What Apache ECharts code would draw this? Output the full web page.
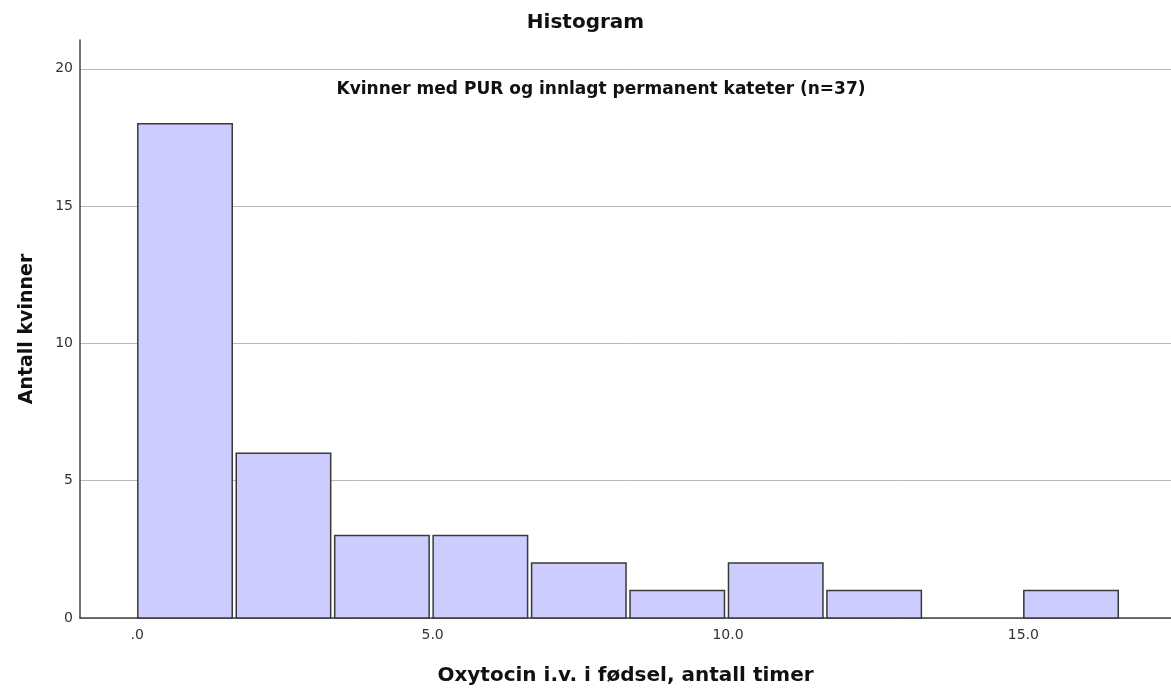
<!DOCTYPE html>
<html>
<head>
<meta charset="utf-8">
<script src="https://cdn.jsdelivr.net/npm/echarts@6/dist/echarts.min.js"></script>
<style>html,body{margin:0;padding:0;background:#fff}#c{width:1171px;height:691px}</style>
</head>
<body>
<div id="c"></div>
<script>
const binEdges = [0, 1.6667, 3.3333, 5, 6.6667, 8.3333, 10, 11.6667, 13.3333, 15, 16.6667];
const counts = [18, 6, 3, 3, 2, 1, 2, 1, 0, 1];
const xTicks = [0, 5, 10, 15];
const xTickLabels = ['.0', '5.0', '10.0', '15.0'];
const yTicks = [0, 5, 10, 15, 20];
const chartTitle = 'Histogram';
const subTitle = 'Kvinner med PUR og innlagt permanent kateter (n=37)';
const xName = 'Oxytocin i.v. i fødsel, antall timer';
const yName = 'Antall kvinner';

const data = counts.map((c, i) => [binEdges[i], binEdges[i + 1], c]);
const FONT = 'DejaVu Sans';

const chart = echarts.init(document.getElementById('c'));
chart.setOption({
  animation: false,
  title: [
    { text: chartTitle, left: 'center', top: 8, textStyle: { fontFamily: FONT, fontWeight: 'bold', fontSize: 20, color: '#111' } },
    { text: subTitle, left: 596, top: 76, textAlign: 'center', textStyle: { fontFamily: FONT, fontWeight: 'bold', fontSize: 17, color: '#111' } }
  ],
  grid: { left: 80, right: 0, top: 40, bottom: 72, containLabel: false },
  xAxis: {
    type: 'value', min: -0.97, max: 17.5,
    name: xName, nameLocation: 'middle', nameGap: 48,
    nameTextStyle: { fontFamily: FONT, fontWeight: 'bold', fontSize: 20, color: '#111' },
    axisLine: { show: true, onZero: false, lineStyle: { color: '#444', width: 1.5 } },
    axisTick: { show: false },
    splitLine: { show: false },
    axisLabel: {
      customValues: xTicks, margin: 10,
      fontFamily: FONT, fontSize: 14, color: '#333',
      formatter: v => xTickLabels[xTicks.indexOf(v)] ?? ''
    }
  },
  yAxis: {
    type: 'value', min: 0, max: 21.05,
    name: yName, nameLocation: 'middle', nameGap: 43,
    nameTextStyle: { fontFamily: FONT, fontWeight: 'bold', fontSize: 19, color: '#111' },
    axisLine: { show: true, onZero: false, lineStyle: { color: '#444', width: 1.5 } },
    axisTick: { show: false, customValues: yTicks },
    splitLine: { show: true, lineStyle: { color: '#b8b8b8', width: 1 } },
    axisLabel: { customValues: yTicks, fontFamily: FONT, fontSize: 14, color: '#333', margin: 7 }
  },
  series: [{
    type: 'custom',
    data: data,
    encode: { x: [0, 1], y: 2 },
    renderItem: function (params, api) {
      const v = api.value(2);
      if (!v) return null;
      const p0 = api.coord([api.value(0), v]);
      const p1 = api.coord([api.value(1), 0]);
      return {
        type: 'rect',
        shape: { x: p0[0] + 0.5, y: p0[1], width: p1[0] - p0[0] - 4, height: p1[1] - p0[1] },
        style: { fill: '#ccccff', stroke: '#3a3a3a', lineWidth: 1.5 }
      };
    }
  }]
});
</script>
</body>
</html>
